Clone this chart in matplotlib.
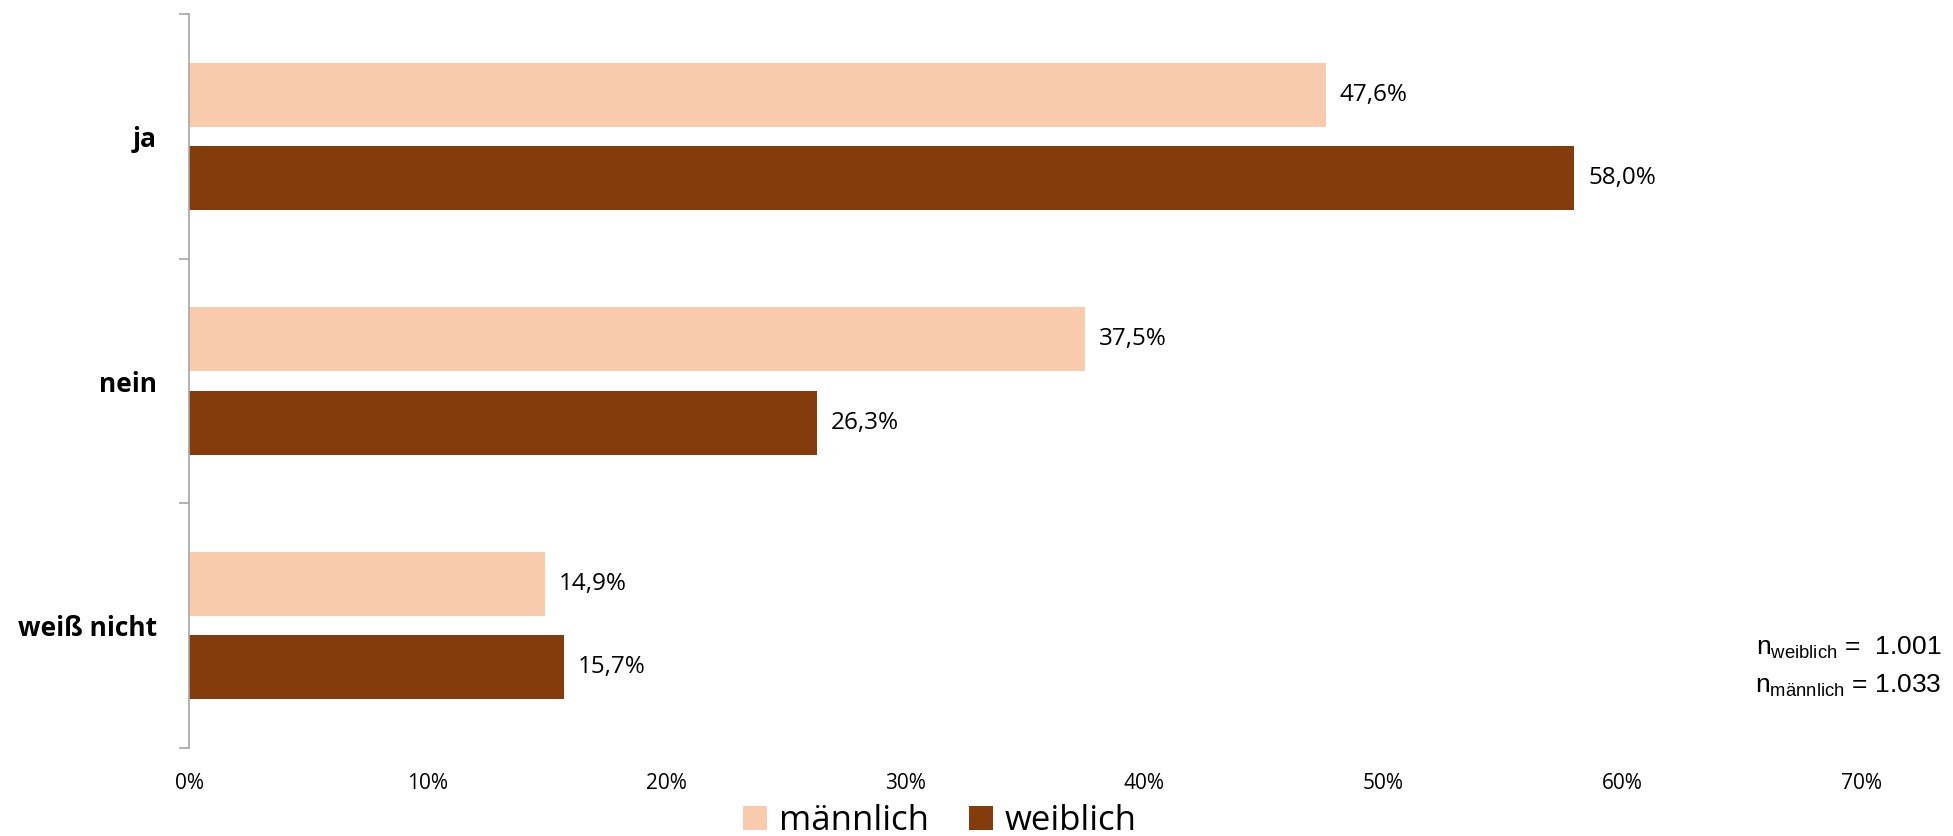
import matplotlib
matplotlib.use("Agg")
import matplotlib.pyplot as plt
from matplotlib.patches import Patch
import numpy as np

categories = ["ja", "nein", "weiß nicht"]
series_names = ["männlich", "weiblich"]
maennlich = [47.6, 37.5, 14.9]
weiblich = [58.0, 26.3, 15.7]
xticks = [0, 10, 20, 30, 40, 50, 60, 70]
xtick_labels = ["0%", "10%", "20%", "30%", "40%", "50%", "60%", "70%"]
n_weiblich = "1.001"
n_maennlich = "1.033"

c_m = "#F8CBAD"
c_w = "#843C0C"
FONT = "Open Sans"
NFONT = "Liberation Sans"

plt.rcParams["mathtext.fontset"] = "custom"
plt.rcParams["mathtext.rm"] = NFONT
plt.rcParams["mathtext.it"] = NFONT

W, H = 1953, 836
fig = plt.figure(figsize=(W / 100, H / 100), dpi=100)
ax = fig.add_axes([189 / W, (H - 748) / H, (1861 - 189) / W, (748 - 14) / H])

y = np.arange(len(categories))
bh = 0.262
off = 0.17
ax.barh(y - off, maennlich, height=bh, color=c_m, label=series_names[0])
ax.barh(y + off, weiblich, height=bh, color=c_w, label=series_names[1])

for yy, v in zip(y - off, maennlich):
    ax.annotate(f"{v:.1f}%".replace(".", ","), (v, yy), xytext=(10, 0),
                textcoords="offset points", va="center", ha="left",
                fontsize=17.5, family=FONT, color="#000000")
for yy, v in zip(y + off, weiblich):
    ax.annotate(f"{v:.1f}%".replace(".", ","), (v, yy), xytext=(10, 0),
                textcoords="offset points", va="center", ha="left",
                fontsize=17.5, family=FONT, color="#000000")

ax.set_xlim(0, 70)
ax.set_ylim(len(categories) - 0.5, -0.5)

ax.set_yticks(np.arange(-0.5, len(categories), 1.0))
ax.set_yticklabels([])
ax.set_yticks(y, minor=True)
ax.set_yticklabels(categories, minor=True, fontsize=19, fontweight="bold", family=FONT)
ax.tick_params(axis="y", which="major", length=7, width=1.2, color="#A6A6A6", direction="out")
ax.tick_params(axis="y", which="minor", length=0, pad=23)

ax.set_xticks(xticks)
ax.set_xticklabels(xtick_labels, fontsize=15, family=FONT)
ax.tick_params(axis="x", length=0, pad=18)

for s in ["top", "right", "bottom"]:
    ax.spines[s].set_visible(False)
ax.spines["left"].set_color("#A6A6A6")
ax.spines["left"].set_linewidth(1.2)

fig.text(1941 / W, (H - 655) / H, r"n$_{\mathrm{weiblich}}$ =  " + n_weiblich,
         ha="right", va="baseline", fontsize=19, family=NFONT)
fig.text(1941 / W, (H - 693) / H, r"n$_{\mathrm{männlich}}$ = " + n_maennlich,
         ha="right", va="baseline", fontsize=19, family=NFONT)

handles = [Patch(facecolor=c_m), Patch(facecolor=c_w)]
fig.legend(handles, series_names, loc="center", bbox_to_anchor=(940 / W, (H - 821) / H),
           ncol=2, frameon=False, prop={"family": FONT, "size": 25},
           handlelength=0.69, handleheight=0.69, handletextpad=0.35,
           columnspacing=1.15, borderpad=0, borderaxespad=0)

fig.savefig("out.png", dpi=100)
